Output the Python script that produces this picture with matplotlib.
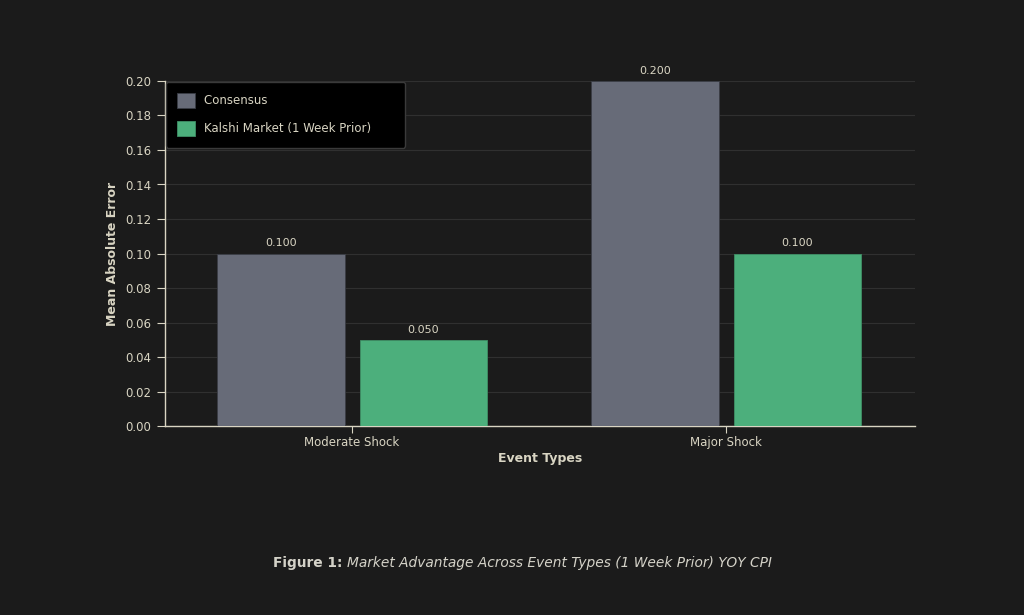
import numpy as np
import matplotlib
matplotlib.use('Agg')
import matplotlib.pyplot as plt

# Data
categories = ['Moderate Shock', 'Major Shock']
consensus = [0.100, 0.200]
kalshi = [0.050, 0.100]
series_names = ['Consensus', 'Kalshi Market (1 Week Prior)']
yticks = [0.00, 0.02, 0.04, 0.06, 0.08, 0.10, 0.12, 0.14, 0.16, 0.18, 0.20]

# Style
bg = '#1b1b1b'
fg = '#d9d5c3'
c_cons = '#676b78'
c_kal = '#4caf7c'
plt.rcParams['font.family'] = ['DejaVu Sans']

fig = plt.figure(figsize=(10.24, 6.15), dpi=100)
fig.patch.set_facecolor(bg)
ax = fig.add_axes([0.1611, 0.3073, 0.7325, 0.561])
ax.set_facecolor(bg)

x = np.arange(len(categories))
w = 0.34
b1 = ax.bar(x - 0.19, consensus, w, color=c_cons, edgecolor='#3a3d45', linewidth=0.6,
            label=series_names[0], zorder=3)
b2 = ax.bar(x + 0.19, kalshi, w, color=c_kal, edgecolor='#3f8f66', linewidth=0.6,
            label=series_names[1], zorder=3)

for bars in (b1, b2):
    for r in bars:
        ax.text(r.get_x() + r.get_width() / 2, r.get_height() + 0.003,
                '%.3f' % r.get_height(), ha='center', va='bottom',
                color=fg, fontsize=8)

ax.set_xlim(-0.5, 1.505)
ax.set_ylim(0, 0.20)
ax.set_yticks(yticks)
ax.set_yticklabels(['%.2f' % v for v in yticks])
ax.set_xticks(x)
ax.set_xticklabels(categories)
ax.tick_params(colors=fg, labelsize=8.5, width=0.8)
ax.tick_params(axis='y', length=6, pad=4)
ax.tick_params(axis='x', length=5, pad=2)
ax.grid(axis='y', color='#303030', linewidth=0.8, zorder=0)
for s in ['top', 'right']:
    ax.spines[s].set_visible(False)
for s in ['left', 'bottom']:
    ax.spines[s].set_color(fg)
    ax.spines[s].set_linewidth(1.0)

ax.set_xlabel('Event Types', color=fg, fontsize=9, fontweight='bold', labelpad=2)
ax.set_ylabel('Mean Absolute Error', color=fg, fontsize=9, fontweight='bold', labelpad=4)

leg = ax.legend(loc='upper left', bbox_to_anchor=(0.0, 1.0), frameon=True,
                fontsize=8.5, handlelength=1.5, handleheight=1.5,
                borderpad=1.0, labelspacing=1.15, handletextpad=0.75,
                borderaxespad=0.05, fancybox=True)
leg.get_frame().set_facecolor('#000000')
leg.get_frame().set_edgecolor('#3a3a3a')
leg.get_frame().set_alpha(1.0)
for t in leg.get_texts():
    t.set_color(fg)
    t.set_text(t.get_text() + '      ')

# Caption: bold prefix followed by italic text
fig.canvas.draw()
rend = fig.canvas.get_renderer()
t1 = fig.text(0.2666, 0.085, 'Figure 1: ', color='#d4d2c8', fontsize=9.9, fontweight='bold',
              ha='left', va='center')
bb = t1.get_window_extent(renderer=rend)
x2 = bb.x1 / fig.bbox.width
fig.text(x2, 0.085, 'Market Advantage Across Event Types (1 Week Prior) YOY CPI',
         color='#d4d2c8', fontsize=9.9, style='italic', ha='left', va='center')

plt.savefig('out.png', dpi=100, facecolor=bg)
